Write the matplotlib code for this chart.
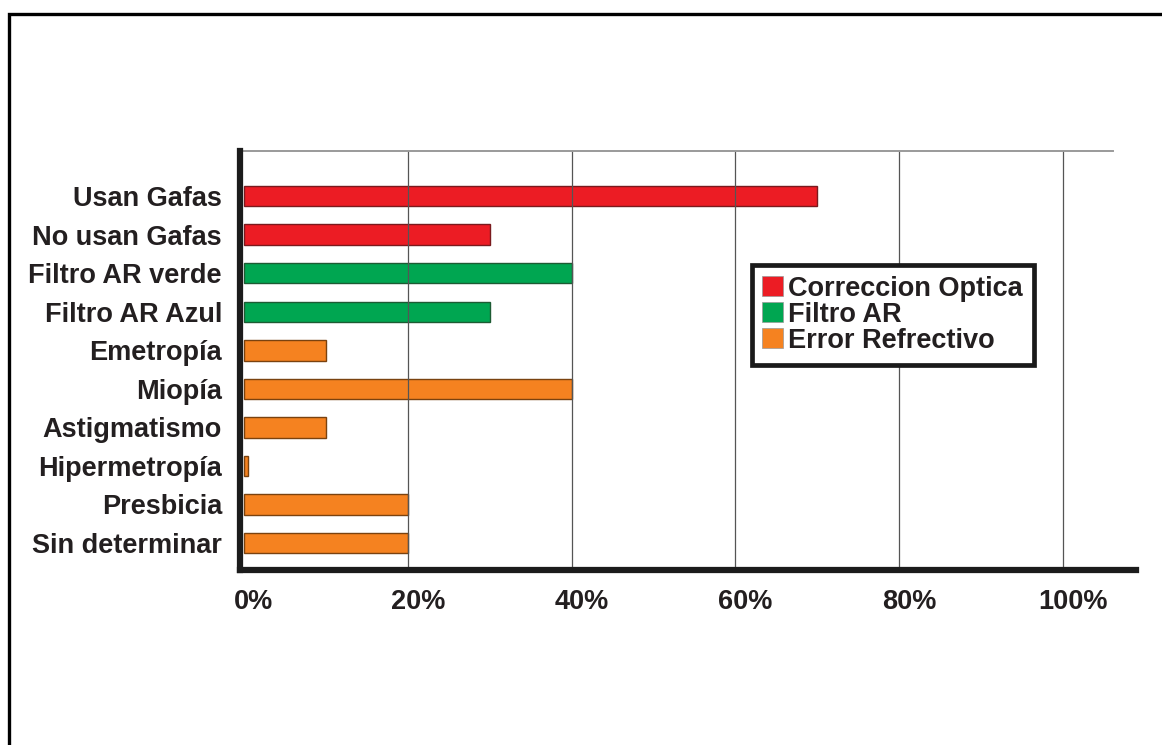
import matplotlib
matplotlib.use("Agg")
import matplotlib.pyplot as plt
import matplotlib.transforms as mtransforms
from matplotlib.patches import Rectangle, Patch

plt.rcParams['font.family'] = ['Liberation Sans', 'DejaVu Sans']
plt.rcParams['font.weight'] = 'bold'

categories = ["Usan Gafas", "No usan Gafas", "Filtro AR verde", "Filtro AR Azul",
              "Emetropía", "Miopía", "Astigmatismo", "Hipermetropía",
              "Presbicia", "Sin determinar"]
values = [70, 30, 40, 30, 10, 40, 10, 0.5, 20, 20]
groups = ["Correccion Optica", "Correccion Optica", "Filtro AR", "Filtro AR",
          "Error Refrectivo", "Error Refrectivo", "Error Refrectivo",
          "Error Refrectivo", "Error Refrectivo", "Error Refrectivo"]
group_names = ["Correccion Optica", "Filtro AR", "Error Refrectivo"]
xticks = [0, 20, 40, 60, 80, 100]
xtick_labels = ["0%", "20%", "40%", "60%", "80%", "100%"]

fill = {"Correccion Optica": "#ec1c24", "Filtro AR": "#00a651", "Error Refrectivo": "#f58220"}
edge = {"Correccion Optica": "#7a1a1e", "Filtro AR": "#1d5b33", "Error Refrectivo": "#7a420f"}
txt = "#231f20"
fs = 19.5

fig = plt.figure(figsize=(11.62, 7.45), dpi=100)
ax = fig.add_axes([0.2065, 0.2349, 0.7711, 0.5624])

ypos = list(range(len(categories)))
ax.barh(ypos, values, height=0.53,
        color=[fill[g] for g in groups],
        edgecolor=[edge[g] for g in groups], linewidth=1.0, zorder=2)

ax.set_xlim(-0.49, 108.9)
ax.set_ylim(9.70, -1.17)

# vertical grid lines on top of the bars
for x in xticks[1:]:
    ax.plot([x, x], [9.70, -1.17], color="#555555", lw=0.9, zorder=3)
ax.plot([-0.49, 106.1], [-1.17, -1.17], color="#9a9a9a", lw=1.4, zorder=3, clip_on=False)

for side in ["top", "right"]:
    ax.spines[side].set_visible(False)
for side in ["left", "bottom"]:
    ax.spines[side].set_linewidth(4.5)
    ax.spines[side].set_color("#1c1c1c")
    ax.spines[side].set_zorder(4)

ax.set_yticks(ypos)
ax.set_yticklabels(categories, fontsize=fs, color=txt, fontweight="bold")
ax.set_xticks(xticks)
ax.set_xticklabels(xtick_labels, fontsize=fs, color=txt, fontweight="bold")
ax.tick_params(axis="y", length=0, pad=13)
ax.tick_params(axis="x", length=0, pad=14)

# percentage labels sit a little to the right of their grid lines
shift = mtransforms.ScaledTranslation(0.1, 0, fig.dpi_scale_trans)
for lab in ax.get_xticklabels():
    lab.set_transform(lab.get_transform() + shift)

handles = [Patch(facecolor=fill[g], edgecolor="#999999", linewidth=0.5) for g in group_names]
leg = ax.legend(handles, group_names, loc="upper left", bbox_to_anchor=(0.571, 0.728),
                fontsize=fs, frameon=True, fancybox=False, framealpha=1,
                edgecolor="#1a1a1a", borderpad=0.4, labelspacing=0.0,
                handlelength=0.75, handleheight=0.75, handletextpad=0.2,
                borderaxespad=0)
leg.get_frame().set_linewidth(3.4)
leg.set_zorder(5)
for t in leg.get_texts():
    t.set_color(txt)
    t.set_fontweight("bold")

# outer frame
fig.patches.append(Rectangle((8.5 / 1162, -0.05), 1.1, 1 - 14 / 745 + 0.05,
                             transform=fig.transFigure, fill=False,
                             edgecolor="black", linewidth=2.4))

fig.savefig("out.png", dpi=100)
